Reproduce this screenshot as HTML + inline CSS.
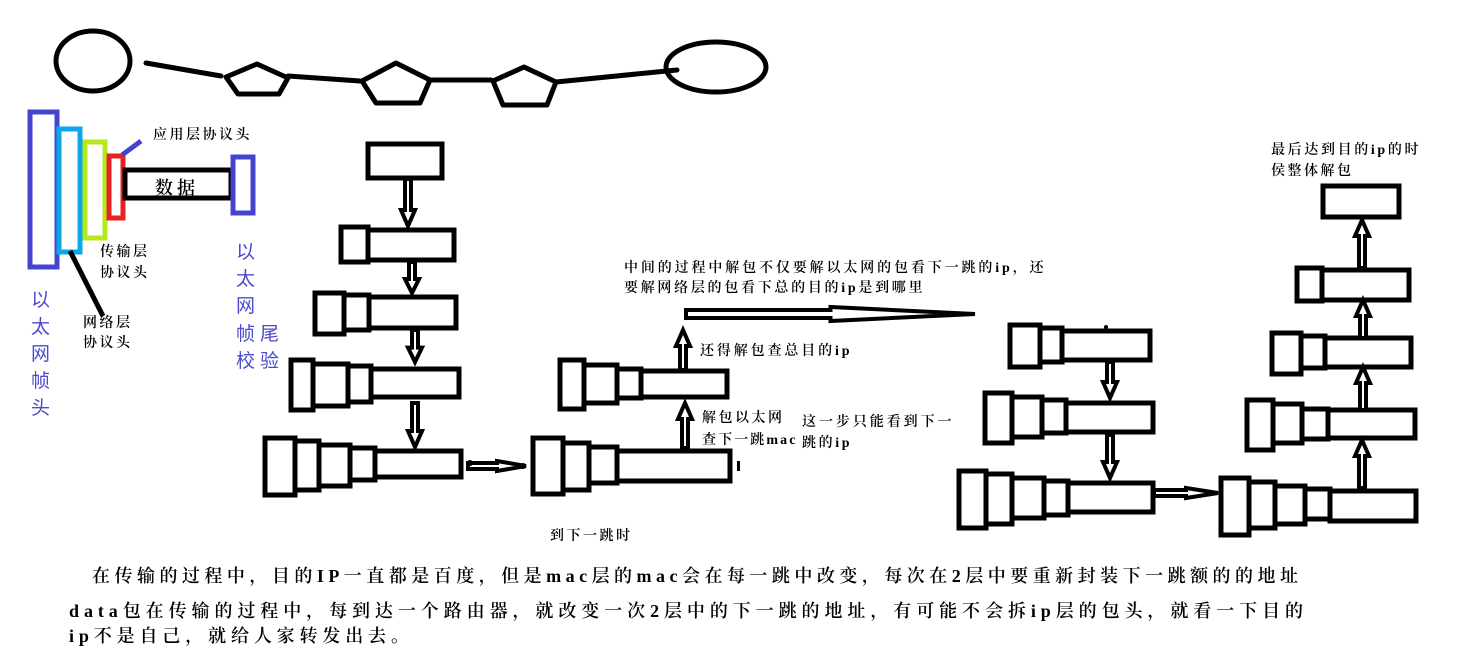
<!DOCTYPE html>
<html><head><meta charset="utf-8"><style>
html,body{margin:0;padding:0;background:#fff;}
svg{display:block;}
text{font-family:"Liberation Serif","Noto Serif CJK SC",serif;fill:#000;}
.s{font-size:14px;letter-spacing:2.5px;font-weight:600;}
.p{fill:#4a4acc;font-size:19px;font-family:"Liberation Sans","Noto Sans CJK SC",sans-serif;}
.b{font-size:18px;font-weight:600;}
</style></head><body>
<svg id="g" width="1465" height="656" viewBox="0 0 1465 656" xmlns="http://www.w3.org/2000/svg">
<g fill="none" stroke="#000" stroke-width="5" stroke-linejoin="round" stroke-linecap="round">
<ellipse cx="93" cy="61" rx="37" ry="30"/>
<ellipse cx="716" cy="67" rx="50" ry="25"/>
<line x1="146" y1="63" x2="221" y2="76"/>
<polygon points="226,77 257,64 288,78 279,94 238,94"/>
<line x1="288" y1="76" x2="360" y2="81"/>
<polygon points="362,81 396,63 430,80 420,103 376,103"/>
<line x1="430" y1="80" x2="491" y2="80"/>
<polygon points="493,81 524,67 556,82 547,105 503,105"/>
<line x1="556" y1="82" x2="677" y2="70"/>
</g>
<g fill="none" stroke-width="5">
<rect x="30" y="112" width="27" height="155" stroke="#4444cc"/>
<rect x="59" y="129" width="21" height="123" stroke="#0aa8e8"/>
<rect x="85" y="142" width="20" height="96" stroke="#b6e81e"/>
<rect x="109" y="156" width="14" height="62" stroke="#e82222"/>
<rect x="125" y="170" width="106" height="28" stroke="#000"/>
<rect x="233" y="157" width="20" height="56" stroke="#4444cc"/>
<line x1="122" y1="155" x2="141" y2="141" stroke="#4444cc"/>
<line x1="70" y1="251" x2="103" y2="316" stroke="#000"/>
</g>
<text class="s" x="153" y="139">应用层协议头</text>
<text class="b" x="155" y="194" style="letter-spacing:4px">数据</text>
<text class="s" x="100" y="256">传输层</text>
<text class="s" x="100" y="277">协议头</text>
<text class="s" x="83" y="327">网络层</text>
<text class="s" x="83" y="347">协议头</text>
<text class="p" x="31" y="306">以</text>
<text class="p" x="31" y="333">太</text>
<text class="p" x="31" y="360">网</text>
<text class="p" x="31" y="387">帧</text>
<text class="p" x="31" y="414">头</text>
<text class="p" x="236" y="258">以</text>
<text class="p" x="236" y="285">太</text>
<text class="p" x="236" y="312">网</text>
<text class="p" x="236" y="340">帧</text>
<text class="p" x="260" y="340">尾</text>
<text class="p" x="236" y="367">校</text>
<text class="p" x="260" y="367">验</text>
<g id="boxes" fill="none" stroke="#000" stroke-width="5"></g>
<g id="arrows" fill="#fff" stroke="#000" stroke-width="4" stroke-linejoin="miter"></g>
<circle cx="470" cy="463" r="3"/>
<circle cx="523" cy="466" r="3"/>
<rect x="737" y="461" width="3" height="10"/>
<circle cx="1106" cy="327" r="2"/>
<text class="s" x="624" y="272" textLength="422">中间的过程中解包不仅要解以太网的包看下一跳的ip，还</text>
<text class="s" x="624" y="292" textLength="301">要解网络层的包看下总的目的ip是到哪里</text>
<text class="s" x="700" y="355" textLength="152">还得解包查总目的ip</text>
<text class="s" x="702" y="422">解包以太网</text>
<text class="s" x="702" y="444" textLength="96">查下一跳mac</text>
<text class="s" x="802" y="426" textLength="152">这一步只能看到下一</text>
<text class="s" x="802" y="447" textLength="50">跳的ip</text>
<text class="s" x="550" y="540">到下一跳时</text>
<text class="s" x="1271" y="154" textLength="150">最后达到目的ip的时</text>
<text class="s" x="1271" y="175">侯整体解包</text>
<text class="b" x="92" y="582" textLength="1206">在传输的过程中，目的IP一直都是百度，但是mac层的mac会在每一跳中改变，每次在2层中要重新封装下一跳额的的地址</text>
<text class="b" x="69" y="617" textLength="1234">data包在传输的过程中，每到达一个路由器，就改变一次2层中的下一跳的地址，有可能不会拆ip层的包头，就看一下目的</text>
<text class="b" x="69" y="642" textLength="340">ip不是自己，就给人家转发出去。</text>
</svg>
<script>
var NS="http://www.w3.org/2000/svg";
var R=[
[368,144,442,178],
[341,227,368,262],[368,230,454,260],
[315,293,344,334],[344,295,369,330],[369,297,456,328],
[291,360,313,410],[313,364,348,406],[348,366,371,402],[371,369,459,397],
[265,438,295,495],[295,441,319,490],[319,445,350,486],[350,448,375,480],[375,451,461,477],
[533,438,563,494],[563,443,589,490],[589,447,617,483],[617,451,730,481],
[560,360,584,409],[584,365,617,403],[617,369,641,398],[641,371,727,397],
[1010,325,1040,367],[1040,328,1062,362],[1062,331,1150,360],
[985,393,1012,443],[1012,397,1042,437],[1042,400,1066,433],[1066,403,1153,432],
[959,471,986,528],[986,474,1012,524],[1012,478,1044,518],[1044,481,1068,515],[1068,483,1153,512],
[1221,478,1249,535],[1249,482,1275,528],[1275,486,1305,524],[1305,489,1330,519],[1330,491,1416,521],
[1247,400,1273,450],[1273,404,1302,443],[1302,409,1328,439],[1328,410,1415,438],
[1272,333,1301,374],[1301,336,1325,368],[1325,338,1411,367],
[1297,268,1322,301],[1322,270,1409,300],
[1323,186,1399,217]
];
var g=document.getElementById("boxes");
R.forEach(function(r){var e=document.createElementNS(NS,"rect");e.setAttribute("x",r[0]);e.setAttribute("y",r[1]);e.setAttribute("width",r[2]-r[0]);e.setAttribute("height",r[3]-r[1]);e.setAttribute("fill","#fff");g.appendChild(e);});
var a=document.getElementById("arrows");
function v(x,y1,y2){var d=y2>y1?1:-1,L=Math.abs(y2-y1),h=Math.min(16,L*0.45),yh=y2-d*h;
var p=[[x-3,y1],[x+3,y1],[x+3,yh],[x+7,yh],[x,y2],[x-7,yh],[x-3,yh]];
var e=document.createElementNS(NS,"polygon");e.setAttribute("points",p.map(function(q){return q.join(",")}).join(" "));a.appendChild(e);}
function hz(x1,x2,y,hw,sw){var hl=(x2-x1)*0.5;var xh=x2-hl;
var p=[[x1,y-sw],[xh,y-sw],[xh,y-hw],[x2,y],[xh,y+hw],[xh,y+sw],[x1,y+sw]];
var e=document.createElementNS(NS,"polygon");e.setAttribute("points",p.map(function(q){return q.join(",")}).join(" "));a.appendChild(e);}
v(408,179,226);v(412,262,293);v(415,330,362);v(415,403,447);
v(685,448,403);v(683,370,330);
v(1110,362,398);v(1110,435,478);
v(1362,488,440);v(1363,410,367);v(1363,338,300);v(1362,268,220);
hz(468,526,466,5,3);hz(1154,1218,493,5,3);
hz(686,975,314,7,4);
</script>
</body></html>
